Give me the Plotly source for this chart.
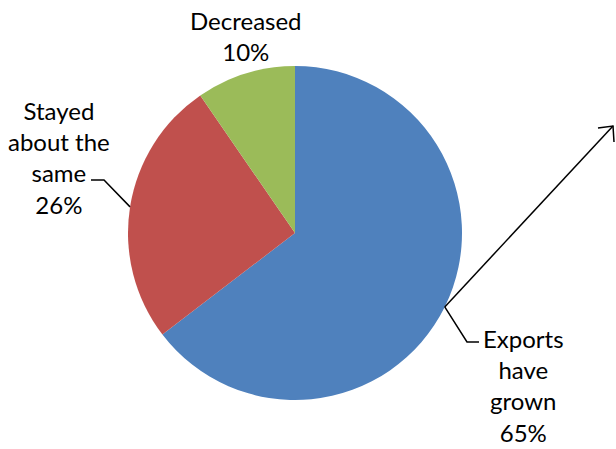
import math
import plotly.graph_objects as go

# ---- data ----
labels = ["Exports have grown", "Stayed about the same", "Decreased"]
label_lines = ["Exports<br>have<br>grown", "Stayed<br>about the<br>same", "Decreased"]
values = [64.6, 25.8, 9.6]
colors = ["#4F81BD", "#C0504D", "#9BBB59"]

W, H = 616, 449
CX, CY, R = 295, 233, 167  # pie centre / radius in pixels

def px(x):
    return x / W

def py(y):
    return 1 - y / H

fig = go.Figure(go.Pie(
    labels=labels,
    values=values,
    marker=dict(colors=colors, line=dict(width=0)),
    sort=False,
    direction="clockwise",
    rotation=0,
    textinfo="none",
    hoverinfo="label+percent",
    showlegend=False,
    domain=dict(x=[px(CX - R), px(CX + R)], y=[py(CY + R), py(CY - R)]),
))

total = sum(values)
pcts = [round(v / total * 100) for v in values]

# mid angles of slices (clockwise from 12 o'clock)
mids = []
cum = 0
for v in values:
    mids.append((cum + v / 2) / total * 2 * math.pi)
    cum += v

def edge(i):
    a = mids[i]
    return CX + R * math.sin(a), CY - R * math.cos(a)

font = dict(family="Lato, Carlito, sans-serif", size=24, color="#000000")

annotations = []
shapes = []
line_style = dict(color="#000000", width=1.5)

# Exports have grown
ex, ey = edge(0)
annotations.append(dict(x=px(523), y=py(385), xref="paper", yref="paper",
                        text=f"{label_lines[0]}<br>{pcts[0]}%", showarrow=False,
                        font=font, align="center", xanchor="center", yanchor="middle"))
shapes.append(dict(type="path", xref="paper", yref="paper",
                   path=f"M {px(ex)} {py(ey)} L {px(467)} {py(342)} L {px(479)} {py(342)}",
                   line=line_style))
# stray arrow from slice edge
tipx, tipy = 613, 126
shapes.append(dict(type="path", xref="paper", yref="paper",
                   path=f"M {px(ex)} {py(ey)} L {px(tipx)} {py(tipy)}",
                   line=line_style))
shapes.append(dict(type="path", xref="paper", yref="paper",
                   path=f"M {px(598)} {py(128)} L {px(tipx)} {py(tipy)} L {px(614)} {py(142)}",
                   line=line_style))

# Stayed about the same
rx, ry = edge(1)
annotations.append(dict(x=px(59), y=py(157), xref="paper", yref="paper",
                        text=f"{label_lines[1]}<br>{pcts[1]}%", showarrow=False,
                        font=font, align="center", xanchor="center", yanchor="middle"))
shapes.append(dict(type="path", xref="paper", yref="paper",
                   path=f"M {px(91)} {py(180)} L {px(104)} {py(180)} L {px(rx)} {py(ry)}",
                   line=line_style))

# Decreased
annotations.append(dict(x=px(246), y=py(36), xref="paper", yref="paper",
                        text=f"{label_lines[2]}<br>{pcts[2]}%", showarrow=False,
                        font=font, align="center", xanchor="center", yanchor="middle"))

fig.update_layout(
    width=W, height=H,
    margin=dict(l=0, r=0, t=0, b=0),
    paper_bgcolor="white", plot_bgcolor="white",
    annotations=annotations,
    shapes=shapes,
)

fig.write_html("out.html",
               config={"displayModeBar": False},
               post_script="document.body.style.margin='0';document.body.style.overflow='hidden';")
